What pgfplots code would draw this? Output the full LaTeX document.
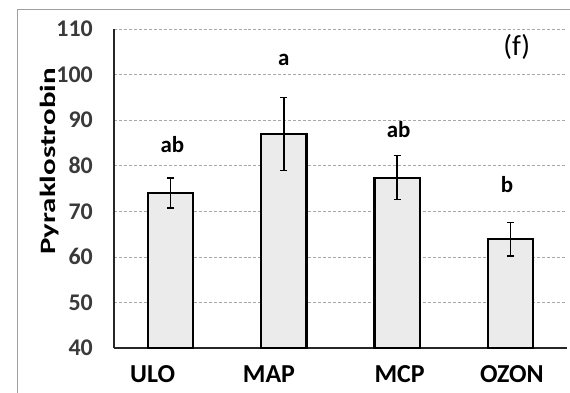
\documentclass[border=0pt]{standalone}
\usepackage{fontspec}
\setmainfont{Carlito}
\usepackage{graphicx}
\usepackage{pgfplots}
\pgfplotsset{compat=1.18}
\definecolor{barfill}{HTML}{EBEBEB}
\definecolor{gridc}{HTML}{A8A8A8}
\definecolor{framec}{HTML}{A0A0A0}
\definecolor{tickc}{HTML}{3A3A3A}
\begin{document}
\begin{tikzpicture}
\begin{axis}[
  at={(0,0)}, anchor=south west,
  scale only axis, width=453bp, height=319bp,
  xmin=-0.5, xmax=3.5, ymin=40, ymax=110,
  ytick={40,50,...,110},
  xtick={-0.159,0.868,2.022,3.013},
  xticklabels={ULO,MAP,MCP,OZON},
  axis x line*=bottom, axis y line*=left,
  axis line style={-, line width=1.7pt, black!85},
  major tick length=0pt,
  ymajorgrids,
  grid style={dashed, gridc, line width=0.7pt, dash pattern=on 3pt off 2pt},
  /pgf/number format/assume math mode=true,
  yticklabel style={font=\bfseries\fontsize{24}{26}\selectfont, text=tickc, inner sep=0pt, xshift=-21bp, anchor=east},
  xticklabel style={font=\bfseries\fontsize{26}{28}\selectfont, text=black, inner sep=0pt, anchor=base, yshift=-34bp},
  clip=false,
]
\addplot[ybar, bar width=0.4, fill=barfill, draw=black, line width=2.1pt,
  error bars/.cd, y dir=both, y explicit,
  error bar style={line width=1.4pt, black},
  error mark options={rotate=90, mark size=3.5bp, line width=1.4pt, black}]
  coordinates {
  (0,74) +- (0,3.3)
  (1,87) +- (0,8)
  (2,77.4) +- (0,4.85)
  (3,63.9) +- (0,3.7)
  };
\node[font=\bfseries\fontsize{23}{25}\selectfont, anchor=base] at (axis cs:0.015,83) {ab};
\node[font=\bfseries\fontsize{23}{25}\selectfont, anchor=base] at (axis cs:1.0,102.1) {a};
\node[font=\bfseries\fontsize{23}{25}\selectfont, anchor=base] at (axis cs:2.013,86.3) {ab};
\node[font=\bfseries\fontsize{23}{25}\selectfont, anchor=base] at (axis cs:2.97,74.2) {b};
\node[font=\fontsize{29}{31}\selectfont] at (axis cs:3.057,106) {(f)};
\end{axis}
\node[rotate=90, font=\bfseries\fontsize{22}{24}\selectfont, inner sep=0pt] at (-64bp,186.5bp) {\scalebox{1.41}[1]{Pyraklostrobin}};
\draw[framec, line width=0.9pt] (-97bp,-50bp) -- (-97bp,339bp) -- (460bp,339bp);
\pgfresetboundingbox
\path[use as bounding box] (-114bp,-45bp) rectangle (456bp,348bp);
\end{tikzpicture}
\end{document}
